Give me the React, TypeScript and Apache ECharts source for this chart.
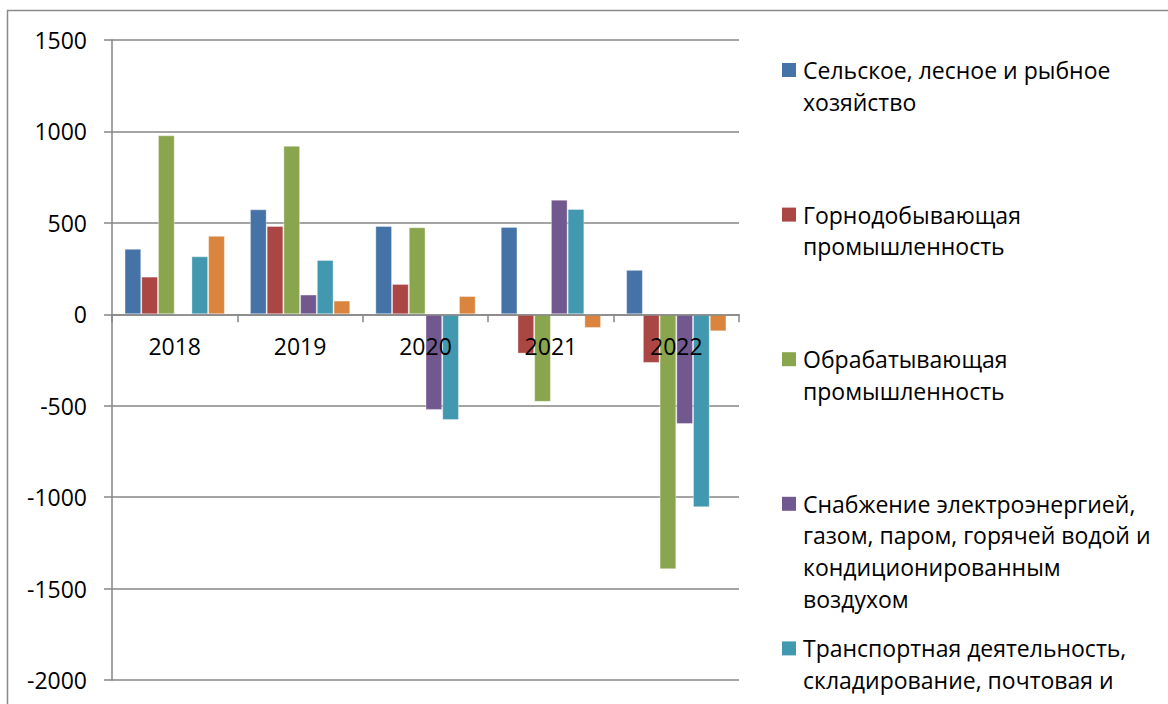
import React, { useEffect, useRef } from "react";
import * as echarts from "echarts";

const categories = ["2018", "2019", "2020", "2021", "2022"];

const seriesNames = [
  "Сельское, лесное и рыбное хозяйство",
  "Горнодобывающая промышленность",
  "Обрабатывающая промышленность",
  "Снабжение электроэнергией, газом, паром, горячей водой и кондиционированным воздухом",
  "Транспортная деятельность, складирование, почтовая и курьерская деятельность",
  "Строительство",
];

// Legend entries as visible in the picture (the rest falls below the frame)
const legendLabels = [
  "Сельское, лесное и рыбное\nхозяйство",
  "Горнодобывающая\nпромышленность",
  "Обрабатывающая\nпромышленность",
  "Снабжение электроэнергией,\nгазом, паром, горячей водой и\nкондиционированным\nвоздухом",
  "Транспортная деятельность,\nскладирование, почтовая и",
];

const agriculture = [358, 574, 483, 478, 243];
const mining = [206, 483, 166, -215, -266];
const manufacturing = [979, 921, 476, -479, -1394];
const energy = [0, 108, -523, 627, -600];
const transport = [317, 297, -578, 576, -1055];
const construction = [429, 75, 100, -75, -93];

const seriesValues = [agriculture, mining, manufacturing, energy, transport, construction];

const colors = ["#4572A7", "#AA4643", "#89A54E", "#71588F", "#4198AF", "#DB843D"];

const yTicks = { min: -2000, max: 1500, interval: 500 };

const FONT = "'Open Sans', 'Noto Sans', sans-serif";
const GRAY = "#868686";

const GRID = { left: 112, right: 429, top: 40, bottom: 24 };
const HEIGHT = 704;

export default function App() {
  const ref = useRef<HTMLDivElement>(null);

  useEffect(() => {
    if (!ref.current) return;
    const chart = echarts.init(ref.current, undefined, { renderer: "svg" });

    const legendGraphics: any[] = [];
    legendLabels.forEach((label, i) => {
      const yc = 70 + 144.6 * i;
      legendGraphics.push({
        type: "rect",
        shape: { x: 782, y: yc - 7, width: 14, height: 14 },
        style: { fill: colors[i] },
        silent: true,
      });
      legendGraphics.push({
        type: "text",
        x: 803,
        y: yc - 15.85,
        style: {
          text: label,
          font: `23px ${FONT}`,
          lineHeight: 31.7,
          fill: "#000",
          verticalAlign: "top",
          align: "left",
        },
        silent: true,
      });
    });

    // place the category axis on the zero line
    const plotH = HEIGHT - GRID.top - GRID.bottom;
    const zeroY = GRID.top + (plotH * yTicks.max) / (yTicks.max - yTicks.min);
    const xOffset = -(HEIGHT - GRID.bottom - zeroY);

    chart.setOption({
      animation: false,
      backgroundColor: "#fff",
      textStyle: { fontFamily: FONT },
      grid: GRID,
      xAxis: {
        type: "category",
        data: categories,
        position: "bottom",
        offset: xOffset,
        z: 5,
        axisLine: { onZero: false, lineStyle: { color: GRAY, width: 1.5 } },
        axisTick: { show: true, length: 8, lineStyle: { color: GRAY, width: 1.5 } },
        axisLabel: { fontSize: 23, color: "#000", margin: 20, fontFamily: FONT },
        splitLine: { show: false },
      },
      yAxis: {
        type: "value",
        min: yTicks.min,
        max: yTicks.max,
        interval: yTicks.interval,
        axisLine: { show: true, lineStyle: { color: GRAY, width: 1.5 } },
        axisTick: { show: true, length: 8, lineStyle: { color: GRAY, width: 1.5 } },
        axisLabel: {
          fontSize: 23,
          color: "#000",
          margin: 25,
          fontFamily: FONT,
          formatter: (v: number) => String(v),
        },
        splitLine: { show: true, lineStyle: { color: GRAY, width: 1.5 } },
      },
      series: seriesValues.map((vals, i) => ({
        name: seriesNames[i],
        type: "bar",
        data: vals,
        barGap: "0%",
        barCategoryGap: "20%",
        itemStyle: {
          color: colors[i],
          borderColor: "rgba(255,255,255,0.35)",
          borderWidth: 1,
        },
      })),
      graphic: [
        {
          type: "rect",
          shape: { x: 7.5, y: 10.5, width: 1300, height: 900 },
          style: { fill: "none", stroke: "#8a8a8a", lineWidth: 1.5 },
          silent: true,
          z: 100,
        },
        ...legendGraphics,
      ],
    });

    return () => chart.dispose();
  }, []);

  return (
    <div
      ref={ref}
      style={{ position: "absolute", left: 0, top: 0, width: 1168, height: 704 }}
    />
  );
}
